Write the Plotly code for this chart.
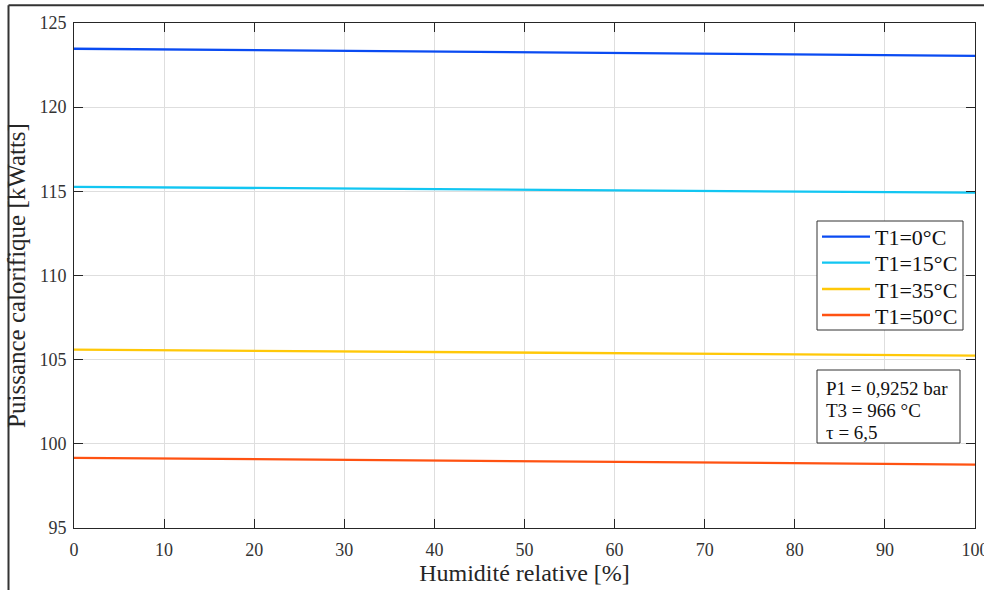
import plotly.graph_objects as go

# Relative humidity [%] and heat output [kW] for each inlet temperature T1
humidity = [0, 50, 100]
p_t1_0 = [123.47, 123.25, 123.05]
p_t1_15 = [115.27, 115.08, 114.92]
p_t1_35 = [105.60, 105.42, 105.24]
p_t1_50 = [99.17, 98.97, 98.77]

series_names = ["T1=0°C", "T1=15°C", "T1=35°C", "T1=50°C"]
series_values = [p_t1_0, p_t1_15, p_t1_35, p_t1_50]
series_colors = ["#0a4bf2", "#12c6f2", "#ffc808", "#ff5212"]

x_ticks = list(range(0, 101, 10))
y_ticks = [95, 100, 105, 110, 115, 120, 125]

info_lines = ["P1 = 0,9252 bar", "T3 = 966 °C", "τ = 6,5"]

FONT = "Liberation Serif, Times New Roman, serif"
AX = "#262626"

# figure / plot-area geometry in pixels
W, H = 984, 590
L, R, T, B = 74, 9, 23, 62
PW, PH = W - L - R, H - T - B


def px(x):
    return (x - L) / PW


def py(y):
    return 1 - (y - T) / PH


fig = go.Figure()
for name, vals, col in zip(series_names, series_values, series_colors):
    fig.add_trace(go.Scatter(x=humidity, y=vals, mode="lines", name=name,
                             line=dict(color=col, width=2.3),
                             showlegend=False))

axis_common = dict(
    showline=True, linecolor=AX, linewidth=1, mirror="ticks",
    ticks="inside", ticklen=9, tickwidth=1, tickcolor=AX,
    showgrid=True, gridcolor="#dedede", gridwidth=1,
    zeroline=False, ticklabeloverflow="allow", automargin=False,
    tickfont=dict(family=FONT, size=18, color="#333333"),
)

fig.update_xaxes(range=[0, 100], tickvals=x_ticks, ticklabelstandoff=5,
                 title=dict(text="Humidité relative [%]", standoff=4,
                            font=dict(family=FONT, size=24, color="#262626")),
                 **axis_common)
fig.update_yaxes(range=[95, 125], tickvals=y_ticks, ticklabelstandoff=3,
                 title=dict(text="Puissance calorifique [kWatts]", standoff=6,
                            font=dict(family=FONT, size=25, color="#262626")),
                 **axis_common)

shapes = []
annotations = []

# outer frame (left and top edges)
shapes.append(dict(type="line", xref="paper", yref="paper",
                   x0=px(8.5), x1=px(8.5), y0=py(592), y1=py(5.3),
                   line=dict(color="#333333", width=2)))
shapes.append(dict(type="line", xref="paper", yref="paper",
                   x0=px(8.5), x1=px(990), y0=py(5.3), y1=py(5.3),
                   line=dict(color="#333333", width=2)))

# legend box
shapes.append(dict(type="rect", xref="paper", yref="paper",
                   x0=px(817), x1=px(963), y0=py(221), y1=py(330),
                   fillcolor="white", line=dict(color="#333333", width=1),
                   layer="above"))
legend_rows = [236.7, 262.7, 289.0, 315.0]
for name, col, yy in zip(series_names, series_colors, legend_rows):
    shapes.append(dict(type="line", xref="paper", yref="paper",
                       x0=px(822), x1=px(870), y0=py(yy), y1=py(yy),
                       line=dict(color=col, width=2.3), layer="above"))
    annotations.append(dict(xref="paper", yref="paper", x=px(873), y=py(yy + 1),
                            xanchor="left", yanchor="middle", showarrow=False,
                            text=name,
                            font=dict(family=FONT, size=22, color="#111111")))

# operating conditions box
shapes.append(dict(type="rect", xref="paper", yref="paper",
                   x0=px(817), x1=px(960), y0=py(370), y1=py(443),
                   fillcolor="white", line=dict(color="#333333", width=1),
                   layer="above"))
for line_text, yy in zip(info_lines, [388, 410, 432]):
    annotations.append(dict(xref="paper", yref="paper", x=px(824), y=py(yy),
                            xanchor="left", yanchor="middle", showarrow=False,
                            text=line_text,
                            font=dict(family=FONT, size=19, color="#111111")))

fig.update_layout(
    width=W, height=H,
    margin=dict(l=L, r=R, t=T, b=B),
    paper_bgcolor="white", plot_bgcolor="white",
    font=dict(family=FONT),
    shapes=shapes, annotations=annotations,
    showlegend=False,
)

fig.write_html("out.html")
